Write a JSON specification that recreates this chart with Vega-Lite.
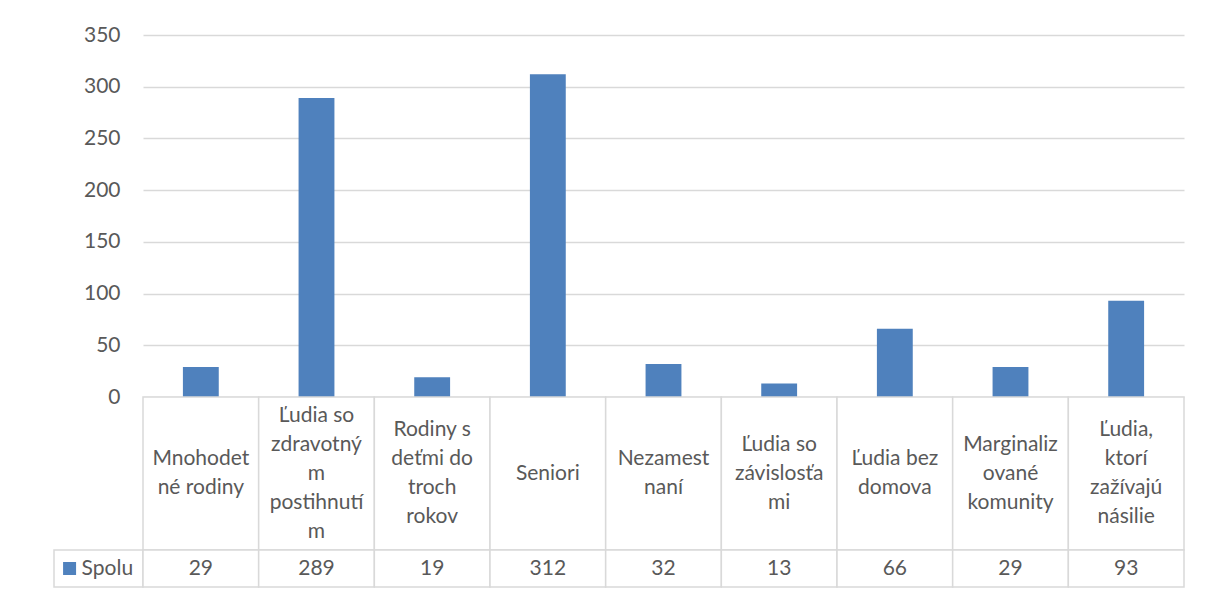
{
  "$schema": "https://vega.github.io/schema/vega-lite/v6.json",
  "background": "white",
  "padding": {"left": 53, "top": 24, "right": 26, "bottom": 8},
  "datasets": {
    "cats": [
      {"cat": "Mnohodetné rodiny", "label": "Mnohodet\nné rodiny", "value": 29},
      {"cat": "Ľudia so zdravotným postihnutím", "label": "Ľudia so\nzdravotný\nm\npostihnutí\nm", "value": 289},
      {"cat": "Rodiny s deťmi do troch rokov", "label": "Rodiny s\ndeťmi do\ntroch\nrokov", "value": 19},
      {"cat": "Seniori", "label": "Seniori", "value": 312},
      {"cat": "Nezamestnaní", "label": "Nezamest\nnaní", "value": 32},
      {"cat": "Ľudia so závislosťami", "label": "Ľudia so\nzávislosťa\nmi", "value": 13},
      {"cat": "Ľudia bez domova", "label": "Ľudia bez\ndomova", "value": 66},
      {"cat": "Marginalizované komunity", "label": "Marginaliz\nované\nkomunity", "value": 29},
      {"cat": "Ľudia, ktorí zažívajú násilie", "label": "Ľudia,\nktorí\nzažívajú\nnásilie", "value": 93}
    ],
    "series": [{"series": "Spolu"}]
  },
  "columns": 2,
  "align": "each",
  "bounds": "flush",
  "spacing": 0,
  "concat": [
    {
      "data": {"name": "series"},
      "width": 89,
      "height": 362,
      "mark": {"type": "text", "text": ""},
      "encoding": {}
    },
    {
      "data": {"name": "cats"},
      "width": 1041,
      "height": 362,
      "mark": {"type": "bar", "width": {"band": 0.31}, "color": "#4f81bd"},
      "encoding": {
        "x": {"field": "cat", "type": "nominal", "sort": null, "axis": null, "scale": {"paddingInner": 0, "paddingOuter": 0}},
        "y": {
          "field": "value",
          "type": "quantitative",
          "scale": {"domain": [0, 350], "nice": false},
          "axis": {
            "values": [0, 50, 100, 150, 200, 250, 300, 350],
            "title": null,
            "domain": false,
            "ticks": false,
            "labelPadding": 23,
            "gridColor": "#d9d9d9",
            "gridWidth": 1.3,
            "labelFontSize": 21,
            "labelColor": "#595959"
          }
        }
      }
    },
    {
      "data": {"name": "series"},
      "width": 89,
      "height": 153,
      "mark": {"type": "text", "text": ""},
      "encoding": {}
    },
    {
      "data": {"name": "cats"},
      "width": 1041,
      "height": 153,
      "encoding": {
        "x": {"field": "cat", "type": "nominal", "sort": null, "axis": null, "scale": {"paddingInner": 0, "paddingOuter": 0}}
      },
      "layer": [
        {"mark": {"type": "rect", "fill": "white", "stroke": "#d9d9d9", "strokeWidth": 1.5}},
        {
          "transform": [{"filter": "length(split(datum.label, '\\n')) == 1"}],
          "mark": {"type": "text", "lineBreak": "\n", "fontSize": 21, "lineHeight": 29, "color": "#595959", "baseline": "middle", "dy": 0},
          "encoding": {"text": {"field": "label"}}
        },
        {
          "transform": [{"filter": "length(split(datum.label, '\\n')) == 2"}],
          "mark": {"type": "text", "lineBreak": "\n", "fontSize": 21, "lineHeight": 29, "color": "#595959", "baseline": "middle", "dy": -14.5},
          "encoding": {"text": {"field": "label"}}
        },
        {
          "transform": [{"filter": "length(split(datum.label, '\\n')) == 3"}],
          "mark": {"type": "text", "lineBreak": "\n", "fontSize": 21, "lineHeight": 29, "color": "#595959", "baseline": "middle", "dy": -29},
          "encoding": {"text": {"field": "label"}}
        },
        {
          "transform": [{"filter": "length(split(datum.label, '\\n')) == 4"}],
          "mark": {"type": "text", "lineBreak": "\n", "fontSize": 21, "lineHeight": 29, "color": "#595959", "baseline": "middle", "dy": -43.5},
          "encoding": {"text": {"field": "label"}}
        },
        {
          "transform": [{"filter": "length(split(datum.label, '\\n')) == 5"}],
          "mark": {"type": "text", "lineBreak": "\n", "fontSize": 21, "lineHeight": 29, "color": "#595959", "baseline": "middle", "dy": -58},
          "encoding": {"text": {"field": "label"}}
        }
      ]
    },
    {
      "data": {"name": "series"},
      "width": 89,
      "height": 37,
      "encoding": {
        "x": {"field": "series", "type": "nominal", "axis": null, "scale": {"paddingInner": 0, "paddingOuter": 0}}
      },
      "layer": [
        {"mark": {"type": "rect", "fill": "white", "stroke": "#d9d9d9", "strokeWidth": 1.5}},
        {
          "mark": {"type": "square", "size": 169, "filled": true, "color": "#4f81bd", "opacity": 1},
          "encoding": {"x": {"field": "series", "type": "nominal", "axis": null, "bandPosition": 0.175}}
        },
        {
          "mark": {"type": "text", "align": "left", "fontSize": 21, "color": "#595959", "baseline": "middle"},
          "encoding": {"x": {"field": "series", "type": "nominal", "axis": null, "bandPosition": 0.31}, "text": {"field": "series"}}
        }
      ]
    },
    {
      "data": {"name": "cats"},
      "width": 1041,
      "height": 37,
      "encoding": {
        "x": {"field": "cat", "type": "nominal", "sort": null, "axis": null, "scale": {"paddingInner": 0, "paddingOuter": 0}}
      },
      "layer": [
        {"mark": {"type": "rect", "fill": "white", "stroke": "#d9d9d9", "strokeWidth": 1.5}},
        {
          "mark": {"type": "text", "fontSize": 21, "color": "#595959", "baseline": "middle"},
          "encoding": {"text": {"field": "value"}}
        }
      ]
    }
  ],
  "config": {
    "view": {"stroke": null},
    "font": "Lato"
  }
}
